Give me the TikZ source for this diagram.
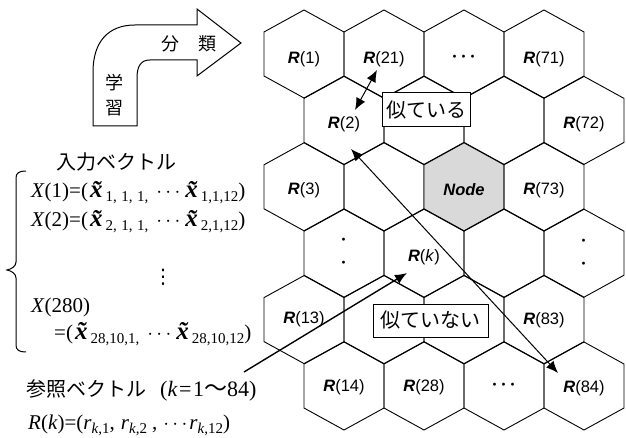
\documentclass[tikz,border=0pt]{standalone}
\usepackage{fontspec}
\setmainfont{Liberation Serif}
\newfontfamily\cjk{Noto Sans CJK JP}
\newfontfamily\arial{Liberation Sans}
\newfontfamily\djv{DejaVu Sans}
\usetikzlibrary{arrows.meta}
\newcommand{\xt}{\kern2pt{\fontsize{25}{25}\selectfont\bfseries\itshape\~{x}}\kern3pt}
\newcommand{\sbs}[1]{\raisebox{-4pt}{\fontsize{15}{15}\selectfont #1}}
\newcommand{\cm}{,\kern4.5pt}
\newcommand{\dts}{\hspace{8pt}$\cdots$\hspace{3pt}}
\newcommand{\Rl}[1]{{\bfseries\itshape R}(#1)}
\tikzset{
  hexline/.style={line width=0.9pt},
  plainhex/.style={},
  grayhex/.style={fill=black!15},
  hexlab/.style={font=\arial\fontsize{16.5}{18}\selectfont, inner sep=0pt},
  cjktext/.style={font=\cjk\fontsize{20}{22}\selectfont, inner sep=0pt},
  formula/.style={font=\fontsize{21}{24}\selectfont, inner sep=0pt, anchor=base west},
  simbox/.style={draw, fill=white, line width=1pt, inner sep=0pt, font=\cjk\fontsize{20}{22}\selectfont},
  dblarrow/.style={{Latex[length=12pt,width=10pt]}-{Latex[length=12pt,width=10pt]}, line width=1pt},
  onearrow/.style={-{Latex[length=12pt,width=10pt]}, line width=1.4pt},
}
\begin{document}
\begin{tikzpicture}[x=1pt,y=-1pt]
\useasboundingbox (0,0) rectangle (626,438);
% hex grid
\foreach \cx/\cy/\st in {304/54/plainhex,384/54/plainhex,464/54/plainhex,544/54/plainhex,
  344/120.4/plainhex,424/120.4/plainhex,504/120.4/plainhex,584/120.4/plainhex,
  304/186.8/plainhex,384/186.8/plainhex,464/186.8/grayhex,544/186.8/plainhex,
  344/253.2/plainhex,424/253.2/plainhex,504/253.2/plainhex,584/253.2/plainhex,
  304/319.6/plainhex,384/319.6/plainhex,464/319.6/plainhex,544/319.6/plainhex,
  344/386/plainhex,424/386/plainhex,504/386/plainhex,584/386/plainhex}{
  \draw[hexline,\st] (\cx,\cy-44) -- (\cx+40,\cy-22) -- (\cx+40,\cy+22) -- (\cx,\cy+44) -- (\cx-40,\cy+22) -- (\cx-40,\cy-22) -- cycle;
}
% hex labels
\node[hexlab] (r1) at (304,59) {\Rl{1}};
\node[hexlab] (r21) at (384,59) {\Rl{21}};
\node[hexlab, font=\cjk\fontsize{18}{18}\selectfont] (d0) at (464,59) {･･･};
\node[hexlab] (r71) at (544,59) {\Rl{71}};
\node[hexlab] (r2) at (344,124) {\Rl{2}};
\node[hexlab] (r72) at (584,124) {\Rl{72}};
\node[hexlab] (r3) at (304,190) {\Rl{3}};
\node[hexlab] (node) at (464,190) {\bfseries\itshape Node};
\node[hexlab] (r73) at (544,190) {\Rl{73}};
\node[hexlab, align=center, font=\cjk\fontsize{18}{23}\selectfont] (v1) at (344,254) {･\\･};
\node[hexlab] (rk) at (424,257) {{\bfseries\itshape R}(\textit{k})};
\node[hexlab, align=center, font=\cjk\fontsize{18}{23}\selectfont] (v2) at (584,255) {･\\･};
\node[hexlab] (r13) at (304,319) {\Rl{13}};
\node[hexlab] (r83) at (544,320) {\Rl{83}};
\node[hexlab] (r14) at (344,387) {\Rl{14}};
\node[hexlab] (r28) at (424,387) {\Rl{28}};
\node[hexlab, font=\cjk\fontsize{18}{18}\selectfont] (d5) at (504,387) {･･･};
\node[hexlab] (r84) at (584,388) {\Rl{84}};
% arrows
\coordinate (a1s) at (377,70);
\coordinate (a1e) at (355,110);
\coordinate (a2s) at (351,149);
\coordinate (a2e) at (558,373);
\coordinate (a3s) at (244,372);
\coordinate (a3e) at (407,273);
\draw[dblarrow] (a1s) -- (a1e);
\draw[dblarrow] (a2s) -- (a2e);
\draw[onearrow] (a3s) -- (a3e);
% boxes
\node[simbox, minimum width=88pt, minimum height=34pt] (sim) at (426,110) {似ている};
\node[simbox, minimum width=115pt, minimum height=33pt] (dis) at (430.5,320.5) {似ていない};
% learning / classification arrow
\draw[line width=1pt] (93,126) -- (93,72) .. controls (93,42) and (108,25) .. (135,25) -- (197,25) -- (197,9) -- (241,43) -- (197,76) -- (197,60) -- (150,60) .. controls (141,60) and (137,66) .. (137,78) -- (137,126) -- cycle;
\node[cjktext, font=\cjk\fontsize{18}{18}\selectfont] (bun) at (170,44) {分};
\node[cjktext, font=\cjk\fontsize{18}{18}\selectfont] (rui) at (207,44) {類};
\node[cjktext, font=\cjk\fontsize{18}{18}\selectfont] (gaku) at (114,83) {学};
\node[cjktext, font=\cjk\fontsize{18}{18}\selectfont] (shu) at (114,108) {習};
% input vectors
\node[cjktext] (inp) at (116,162) {入力ベクトル};
\draw[line width=1pt] (26,171) .. controls (19,171) and (16,173) .. (16,178) -- (16,262) .. controls (16,266) and (12,269) .. (7,270) .. controls (12,271) and (16,274) .. (16,278) -- (16,345) .. controls (16,350) and (19,352) .. (26,352);
\node[formula] (x1) at (31,198) {\textit{X}(1)=(\xt\sbs{1\cm 1\cm 1,}\dts\xt\sbs{1,1,12})};
\node[formula] (x2) at (31,227) {\textit{X}(2)=(\xt\sbs{2\cm 1\cm 1,}\dts\xt\sbs{2,1,12})};
\node[inner sep=0pt, font=\djv\fontsize{20}{20}\selectfont] (vd) at (163,277) {⋮};
\node[formula] (x280) at (31,312) {\textit{X}(280)};
\node[formula] (x280b) at (54,339) {=(\xt\sbs{28,10,1,}\dts\xt\sbs{28,10,12})};
% reference vectors
\node[formula, font=\cjk\fontsize{20}{22}\selectfont] (ref) at (26,396) {参照ベクトル\hspace{14pt}{\rmfamily\fontsize{22}{24}\selectfont (\textit{k}\kern1.5pt=\kern1.5pt1{\cjk\fontsize{23}{23}\selectfont ～}84)}};
\node[formula] (rkdef) at (28,429) {\textit{R}(\textit{k})=(\textit{r}\sbs{\textit{k},1},\hspace{6pt}\textit{r}\sbs{\textit{k},2}\hspace{5pt},\hspace{6pt}$\cdots$\hspace{2pt}\textit{r}\sbs{\textit{k},12})};
\end{tikzpicture}
\end{document}
